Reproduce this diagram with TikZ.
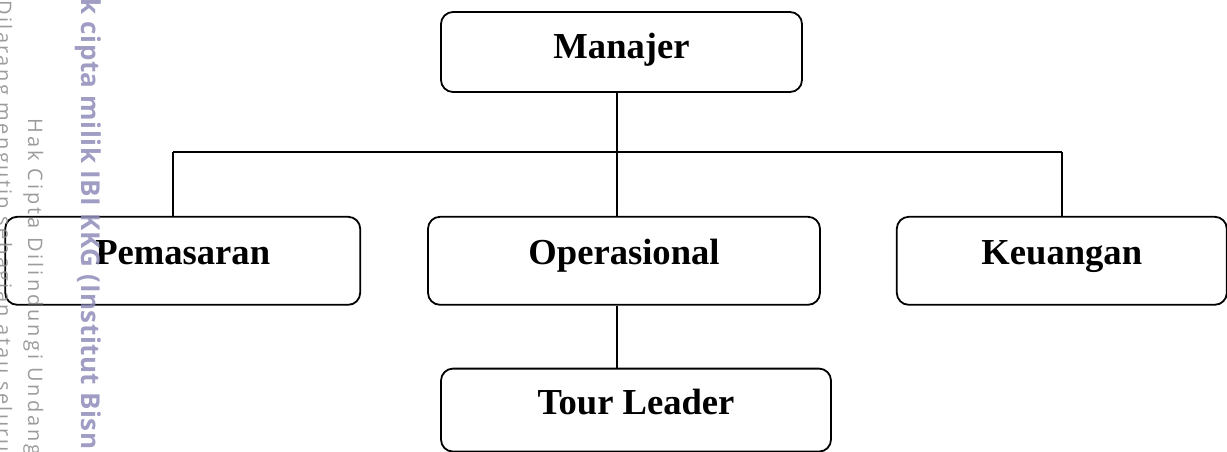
\documentclass[tikz,border=0pt]{standalone}
\usepackage{fontspec}
\setmainfont{Liberation Serif}
\newfontfamily\wmlight[LetterSpace=15]{Open Sans}
\newfontfamily\wmtight[LetterSpace=12]{Open Sans}
\newfontfamily\wmbold[LetterSpace=2]{Open Sans}
\usetikzlibrary{positioning}
\definecolor{wmgray}{HTML}{8A8A8A}
\definecolor{wmviolet}{HTML}{8E8CB8}

\begin{document}
\begin{tikzpicture}[x=0.5pt, y=-0.5pt,
  unit/.style={draw=black, rounded corners=6pt, line width=0.9pt,
    align=center, inner sep=0pt, text height=0.62em, text depth=0.22em,
    font=\bfseries\fontsize{18.3}{22}\selectfont},
  link/.style={draw=black, line width=0.75pt},
  wm/.style={rotate=-90, anchor=base west, inner sep=0pt, opacity=0.85}
]
\useasboundingbox (0,0) rectangle (1227,451);
\clip (0,0) rectangle (1227,451);

\node[unit, minimum width=180.5pt, minimum height=40pt, text height=0.82em] (man) at (621.5,52) {Manajer};
\node[unit, minimum width=196pt, minimum height=44pt,
  below=61.5pt of man, xshift=1.25pt] (ops) {Operasional};
\node[unit, minimum width=177.5pt, minimum height=44pt,
  left=33pt of ops] (pem) {Pemasaran};
\node[unit, minimum width=165pt, minimum height=44pt,
  right=37.5pt of ops] (keu) {Keuangan};
\node[unit, minimum width=195pt, minimum height=41.5pt,
  below=31pt of ops, xshift=6pt] (tour) {Tour Leader};

\coordinate (bus) at (617,152);
\coordinate (busL) at (173,152);
\coordinate (busR) at (1062,152);

\draw[link] (bus |- man.south) -- (bus);
\draw[link] (busL) -- (busR);
\draw[link] (busL) -- (busL |- pem.north);
\draw[link] (bus) -- (bus |- ops.north);
\draw[link] (busR) -- (busR |- keu.north);
\draw[link] (bus |- ops.south) -- (bus |- tour.north);

\node[wm, text=wmgray, font=\wmtight\fontsize{10}{12}\selectfont] (wma)
  at (-3,0) {Dilarang mengutip sebagian atau seluruh};
\node[wm, text=wmgray, font=\wmlight\fontsize{10}{12}\selectfont] (wmb)
  at (28,118) {Hak Cipta Dilindungi Undang};
\node[wm, text=wmviolet, font=\wmbold\bfseries\fontsize{13}{15}\selectfont] (wmc)
  at (81,-2) {k cipta milik IBI KKG (Institut Bisn};
\end{tikzpicture}
\end{document}
